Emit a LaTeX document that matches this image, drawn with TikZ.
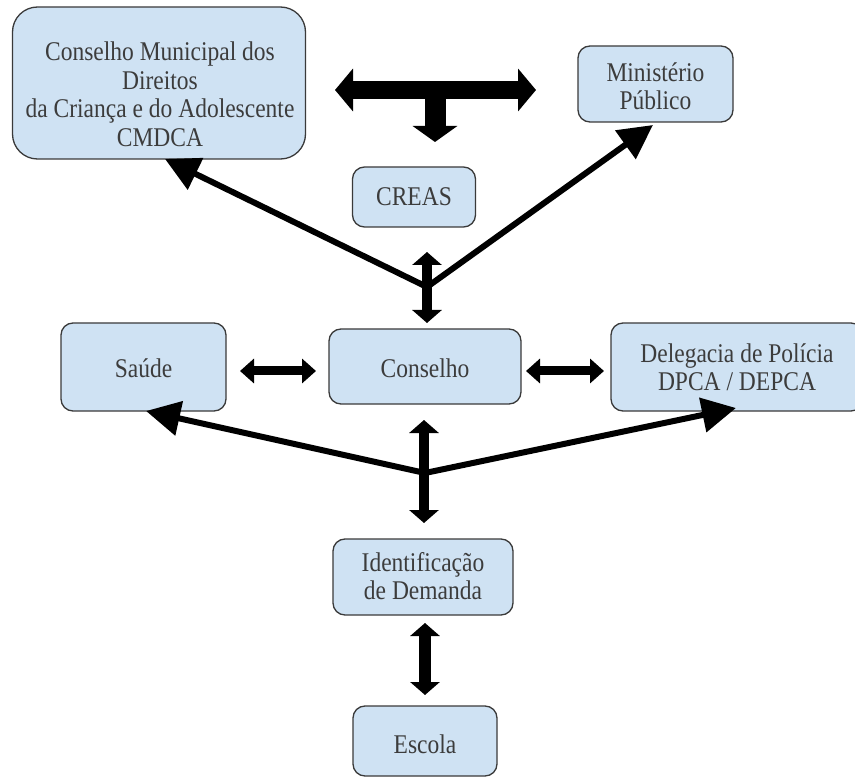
\documentclass[tikz,border=0pt]{standalone}
\usepackage{graphicx}
\usepackage{fontspec}
\setmainfont{Liberation Serif}
\newfontfamily\boxfont{Liberation Serif}
\usetikzlibrary{arrows.meta}
\definecolor{boxfill}{HTML}{CFE2F3}
\definecolor{boxline}{HTML}{3A3A3A}
\definecolor{txtcol}{HTML}{3C3C3C}
\newcommand\stx[2][-4pt]{\raisebox{#1}[\height][\depth]{\scalebox{1}[1.15]{\begin{tabular}{@{}c@{}}#2\end{tabular}}}}
\begin{document}
\begin{tikzpicture}[x=1pt,y=-1pt,
  box/.style={draw=boxline, fill=boxfill, line width=1.3pt, rounded corners=12pt,
    inner sep=0pt, text=txtcol, font=\boxfont\fontsize{23.5}{24.8}\selectfont, align=center},
  lbl/.style={text=txtcol, font=\boxfont\fontsize{23.5}{24.8}\selectfont, align=center, inner sep=0pt},
  dblsmall/.style={line width=9pt, {Triangle[length=14pt,width=24pt]}-{Triangle[length=14pt,width=24pt]}},
  dblvert/.style={line width=10pt, {Triangle[length=13pt,width=29pt]}-{Triangle[length=13pt,width=29pt]}},
  dblbig/.style={line width=18pt, {Triangle[length=18pt,width=42pt]}-{Triangle[length=18pt,width=42pt]}},
  stem/.style={line width=21pt, -{Triangle[length=16pt,width=44pt]}},
  diag/.style={line width=6pt, -{Triangle[length=34pt,width=34pt]}},
]
\clip (0,0) rectangle (855,778);
% boxes
\node[box, minimum width=293pt, minimum height=152pt, rounded corners=25pt] (cmdca) at (159,83) {};
\node[lbl] (cmdcat) at (160,94) {\stx{Conselho Municipal dos\\Direitos\\da Criança e do Adolescente\\CMDCA}};
\node[box, minimum width=155pt, minimum height=76pt] (mp) at (655.5,84) {\stx[-6pt]{Ministério\\Público}};
\node[box, minimum width=123pt, minimum height=60pt] (creas) at (414,197) {\stx[-3pt]{CREAS}};
\node[box, minimum width=165pt, minimum height=88pt] (saude) at (143.5,367) {\stx[-5pt]{Saúde}};
\node[box, minimum width=192pt, minimum height=75pt] (conselho) at (425,366.5) {\stx[-5pt]{Conselho}};
\node[box, minimum width=252pt, minimum height=88pt] (deleg) at (737,367) {\stx[-4pt]{Delegacia de Polícia\\DPCA / DEPCA}};
\node[box, minimum width=180pt, minimum height=76pt] (ident) at (423,577) {\stx[-3pt]{Identificação\\de Demanda}};
\node[box, minimum width=144pt, minimum height=70pt] (escola) at (425,741) {\stx[-7pt]{Escola}};
% connector points
\coordinate (tL) at (335,90);
\coordinate (tR) at (536,90);
\coordinate (tS) at (435,90);
\coordinate (tB) at (435,142);
\coordinate (j1) at (427,287);
\coordinate (j2) at (425,473);
\coordinate (v1a) at (427,252);
\coordinate (v1b) at (427,323);
\coordinate (v2a) at (424,420);
\coordinate (v2b) at (424,523);
\coordinate (v3a) at (425,623);
\coordinate (v3b) at (425,695);
\coordinate (h1a) at (240,371);
\coordinate (h1b) at (316,371);
\coordinate (h2a) at (526,371);
\coordinate (h2b) at (604,371);
\coordinate (pc) at (165,159);
\coordinate (pm) at (653,125);
\coordinate (ps) at (146,411);
\coordinate (pd) at (736,408);
% arrows
\draw[dblbig] (tL) -- (tR);
\draw[stem] (tS) -- (tB);
\draw[diag] (j1) -- (pc);
\draw[diag] (j1) -- (pm);
\draw[dblvert] (v1a) -- (v1b);
\draw[dblsmall] (h1a) -- (h1b);
\draw[dblsmall] (h2a) -- (h2b);
\draw[diag] (j2) -- (ps);
\draw[diag] (j2) -- (pd);
\draw[dblvert] (v2a) -- (v2b);
\draw[dblvert, line width=12pt] (v3a) -- (v3b);
\end{tikzpicture}
\end{document}
